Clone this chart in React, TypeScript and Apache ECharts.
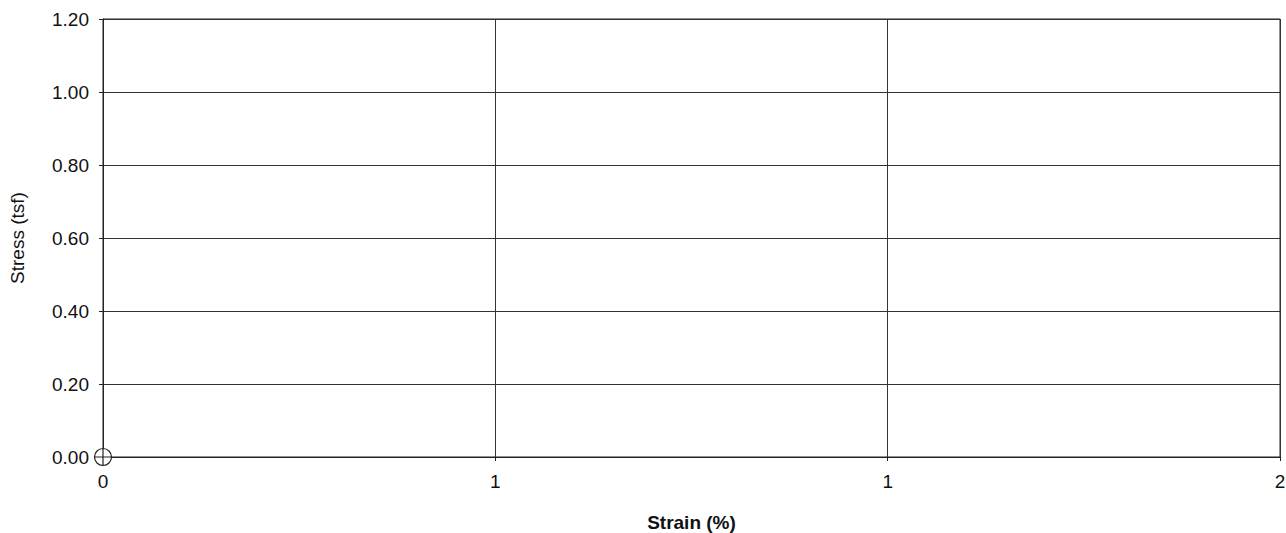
import React, { useEffect, useRef } from "react";
import * as echarts from "echarts";

const strain: number[] = [0];
const stress: number[] = [0];
const xTicks = { min: 0, max: 1.5, interval: 0.5 };
const yTicks = { min: 0, max: 1.2, interval: 0.2 };
const xTitle = "Strain (%)";
const yTitle = "Stress (tsf)";

export default function App() {
  const ref = useRef<HTMLDivElement>(null);
  useEffect(() => {
    if (!ref.current) return;
    const chart = echarts.init(ref.current, undefined, { renderer: "svg" });
    const font = "'Liberation Sans', Arial, sans-serif";
    chart.setOption({
      animation: false,
      backgroundColor: "#ffffff",
      grid: {
        left: 103,
        right: 6,
        top: 19,
        bottom: 76,
        outerBoundsMode: "none",
        containLabel: false,
        show: true,
        borderColor: "#222",
        borderWidth: 1,
      },
      xAxis: {
        type: "value",
        min: xTicks.min,
        max: xTicks.max,
        interval: xTicks.interval,
        name: xTitle,
        nameLocation: "middle",
        nameGap: 56,
        nameTextStyle: { fontFamily: font, fontSize: 19, fontWeight: "bold", color: "#111" },
        axisLine: { show: true, lineStyle: { color: "#222", width: 1 } },
        axisTick: { show: true, length: 4, lineStyle: { color: "#222" } },
        axisLabel: {
          fontFamily: font,
          fontSize: 19,
          color: "#111",
          margin: 15,
          formatter: (v: number) => String(Math.round(v)),
        },
        splitLine: { show: true, lineStyle: { color: "#333", width: 1 } },
      },
      yAxis: {
        type: "value",
        min: yTicks.min,
        max: yTicks.max,
        interval: yTicks.interval,
        name: yTitle,
        nameLocation: "middle",
        nameGap: 76,
        nameTextStyle: { fontFamily: font, fontSize: 19, color: "#111" },
        axisLine: { show: true, lineStyle: { color: "#222", width: 1 } },
        axisTick: { show: true, length: 4, lineStyle: { color: "#222" } },
        axisLabel: {
          fontFamily: font,
          fontSize: 19,
          color: "#111",
          margin: 14,
          formatter: (v: number) => v.toFixed(2),
        },
        splitLine: { show: true, lineStyle: { color: "#333", width: 1 } },
      },
      series: [
        {
          type: "line",
          data: strain.map((x, i) => [x, stress[i]]),
          symbol: "path://M0,-9 A9,9 0 1,1 0,9 A9,9 0 1,1 0,-9 Z M-9,0 L9,0 M0,-9 L0,9",
          symbolSize: 17,
          showSymbol: true,
          itemStyle: { color: "#fff", borderColor: "#222", borderWidth: 1.2 },
          lineStyle: { color: "#222", width: 1 },
          z: 5,
        },
      ],
    });
    return () => chart.dispose();
  }, []);
  return (
    <div
      ref={ref}
      style={{ position: "fixed", left: 0, top: 0, width: 1286, height: 533, background: "#fff" }}
    />
  );
}
